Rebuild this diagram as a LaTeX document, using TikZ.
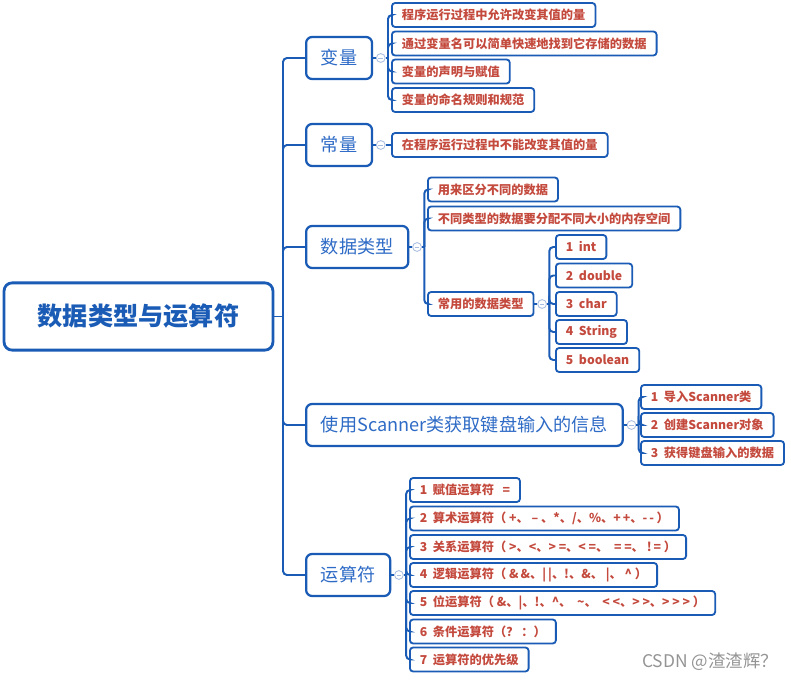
\documentclass[tikz,border=0pt]{standalone}
\usepackage{fontspec}
\newfontfamily\cjk{Noto Sans CJK SC}
\usepackage{tikz}
\usetikzlibrary{
    positioning,
}
\usepackage{xcolor}
\definecolor{mapblue}{HTML}{1A5BB5}
\definecolor{topblue}{HTML}{2E6BC6}
\definecolor{leafred}{HTML}{C44A3E}
\definecolor{foldgrey}{HTML}{A9BDE0}
\definecolor{markgrey}{HTML}{949494}

\begin{document}
\begin{tikzpicture}[
    x=0.025cm, y=-0.025cm,
    rootbox/.style = {rectangle, rounded corners=0.2cm, draw=mapblue,
                      line width=2pt, fill=white,
                      minimum width=6.72cm, minimum height=1.68cm,
                      font=\cjk\bfseries\fontsize{17.9}{20}\selectfont,
                      text=mapblue},
    topbox/.style  = {rectangle, rounded corners=0.15cm, draw=mapblue,
                      line width=1.6pt, fill=white, anchor=west,
                      minimum height=1.05cm, inner xsep=0.37cm,
                      font=\cjk\fontsize{12.9}{15}\selectfont, text=topblue},
    leafbox/.style = {rectangle, rounded corners=0.08cm, draw=mapblue,
                      line width=1.3pt, fill=white, anchor=west,
                      minimum height=0.6cm, inner xsep=0.25cm,
                      font=\cjk\bfseries\fontsize{8.7}{10}\selectfont,
                      text=leafred},
    fold/.style    = {circle, draw=foldgrey, line width=0.6pt, fill=white,
                      minimum size=0.22cm, inner sep=0pt,
                      path picture={\draw[foldgrey, line width=0.6pt]
                        ([xshift=-0.06cm]path picture bounding box.center) --
                        ([xshift=0.06cm]path picture bounding box.center);}},
    link/.style    = {draw=mapblue, line width=1.4pt, rounded corners=0.1cm},
    credittext/.style = {font=\cjk\fontsize{12.4}{14}\selectfont, text=markgrey},
]
\useasboundingbox (0,0) rectangle (791,681);

%% ── Root ─────────────────────────────────────────────────────────────────────
\node[rootbox] (root) at (138.5, 316.5) {数据类型与运算符};

%% ── Main branches: x = 305 ───────────────────────────────────────────────────
\node[topbox] (var)   at (305,  58) {变量};
\node[topbox] (const) at (305, 145) {常量};
\node[topbox] (type)  at (305, 247) {数据类型};
\node[topbox] (scan)  at (305, 425) {使用Scanner类获取键盘输入的信息};
\node[topbox] (oper)  at (305, 575) {运算符};

%% ── 变量 ─────────────────────────────────────────────────────────────────────
\node[leafbox] (var1) at (391,  15.0) {程序运行过程中允许改变其值的量};
\node[leafbox] (var2) at (391,  43.5) {通过变量名可以简单快速地找到它存储的数据};
\node[leafbox] (var3) at (391,  71.5) {变量的声明与赋值};
\node[leafbox] (var4) at (391, 100.0) {变量的命名规则和规范};

%% ── 常量 ─────────────────────────────────────────────────────────────────────
\node[leafbox] (const1) at (391, 145) {在程序运行过程中不能改变其值的量};

%% ── 数据类型 ─────────────────────────────────────────────────────────────────
\node[leafbox] (type1) at (427, 189.5) {用来区分不同的数据};
\node[leafbox] (type2) at (427, 218.5) {不同类型的数据要分配不同大小的内存空间};
\node[leafbox] (type3) at (427, 304.0) {常用的数据类型};

\node[leafbox] (kind1) at (555, 247.0) {1\ \ int};
\node[leafbox] (kind2) at (555, 275.5) {2\ \ double};
\node[leafbox] (kind3) at (555, 304.0) {3\ \ char};
\node[leafbox] (kind4) at (555, 332.0) {4\ \ String};
\node[leafbox] (kind5) at (555, 360.0) {5\ \ boolean};

%% ── Scanner ──────────────────────────────────────────────────────────────────
\node[leafbox] (scan1) at (640, 397) {1\ \ 导入Scanner类};
\node[leafbox] (scan2) at (640, 425) {2\ \ 创建Scanner对象};
\node[leafbox] (scan3) at (640, 453) {3\ \ 获得键盘输入的数据};

%% ── 运算符 ───────────────────────────────────────────────────────────────────
\node[leafbox] (oper1) at (409, 490.0) {1\ \ 赋值运算符\ \ \ =};
\node[leafbox] (oper2) at (409, 518.5)
    {2\ \ 算术运算符（\ +、 – 、*、/、\%、+\,+、-\,-\ ）};
\node[leafbox] (oper3) at (409, 547.0)
    {3\ \ 关系运算符（\ >、<、>\ =、<\ =、\ \ =\ =、\ !\,=\ ）};
\node[leafbox] (oper4) at (409, 575.0)
    {4\ \ 逻辑运算符（\ \&\,\&、|\,|、!、\&、 |、 \textasciicircum\ ）};
\node[leafbox] (oper5) at (409, 603.0)
    {5\ \ 位运算符（\ \&、|、!、\textasciicircum、\ \ \textasciitilde、\ \ <\ <、>\ >、>\ >\ >\ ）};
\node[leafbox] (oper6) at (409, 631.5) {6\ \ 条件运算符（？ ：）};
\node[leafbox] (oper7) at (409, 659.5) {7\ \ 运算符的优先级};

%% ── Fold marks ───────────────────────────────────────────────────────────────
\node[fold, right=0.07cm of var]   (varfold)   {};
\node[fold, right=0.07cm of const] (constfold) {};
\node[fold, right=0.07cm of type]  (typefold)  {};
\node[fold, right=0.07cm of type3] (kindfold)  {};
\node[fold, right=0.07cm of scan]  (scanfold)  {};
\node[fold, right=0.07cm of oper]  (operfold)  {};

\coordinate[right=0.06cm of varfold.east]  (varjoint);
\coordinate[right=0.06cm of typefold.east] (typejoint);
\coordinate[right=0.06cm of kindfold.east] (kindjoint);
\coordinate[right=0.06cm of scanfold.east] (scanjoint);
\coordinate[right=0.06cm of operfold.east] (operjoint);

%% ── Trunk ────────────────────────────────────────────────────────────────────
\coordinate (trunk) at (283, 316.5);
\draw[link] (root.east) -- (trunk);
\foreach \t in {var, const, type, scan, oper}
    \draw[link] (trunk) |- (\t.west);

%% ── Branch links ─────────────────────────────────────────────────────────────
\draw[link] (var)   -- (varfold);
\draw[link] (varfold) -- (varjoint);
\foreach \c in {var1, var2, var3, var4}
    \draw[link] (varjoint) |- (\c.west);

\draw[link] (const) -- (constfold);
\draw[link] (constfold) -- (const1);

\draw[link] (type)  -- (typefold);
\draw[link] (typefold) -- (typejoint);
\foreach \c in {type1, type2, type3}
    \draw[link] (typejoint) |- (\c.west);

\draw[link] (type3) -- (kindfold);
\draw[link] (kindfold) -- (kindjoint);
\foreach \c in {kind1, kind2, kind3, kind4, kind5}
    \draw[link] (kindjoint) |- (\c.west);

\draw[link] (scan)  -- (scanfold);
\draw[link] (scanfold) -- (scanjoint);
\foreach \c in {scan1, scan2, scan3}
    \draw[link] (scanjoint) |- (\c.west);

\draw[link] (oper)  -- (operfold);
\draw[link] (operfold) -- (operjoint);
\foreach \c in {oper1, oper2, oper3, oper4, oper5, oper6, oper7}
    \draw[link] (operjoint) |- (\c.west);

%% ── Watermark ────────────────────────────────────────────────────────────────
\node[credittext] (credit) at (710, 662) {CSDN @渣渣辉？};

\end{tikzpicture}
\end{document}
